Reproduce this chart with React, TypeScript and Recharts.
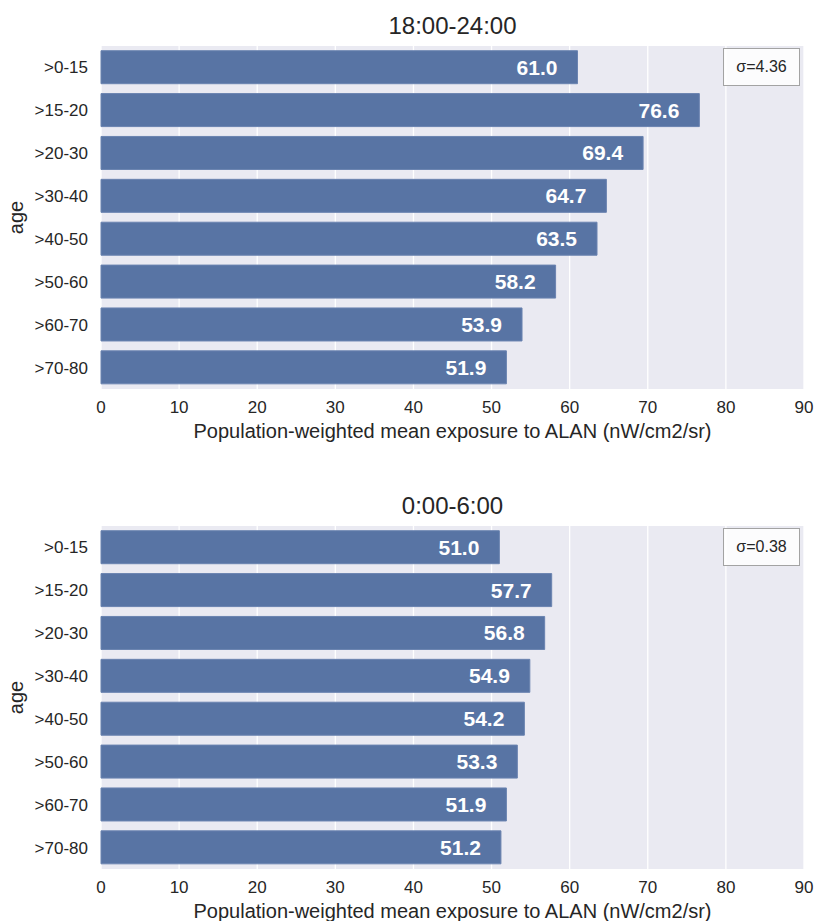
import React from 'react'
import { BarChart, Bar, XAxis, YAxis, CartesianGrid, LabelList } from 'recharts'

// age groups and population-weighted mean ALAN exposure per time window
const ageGroups = ['>0-15', '>15-20', '>20-30', '>30-40', '>40-50', '>50-60', '>60-70', '>70-80']
const eveningValues = [61.0, 76.6, 69.4, 64.7, 63.5, 58.2, 53.9, 51.9]
const nightValues = [51.0, 57.7, 56.8, 54.9, 54.2, 53.3, 51.9, 51.2]
const xTicks = [0, 10, 20, 30, 40, 50, 60, 70, 80, 90]

const panels = [
  { title: '18:00-24:00', sigma: 'σ=4.36', values: eveningValues },
  { title: '0:00-6:00', sigma: 'σ=0.38', values: nightValues },
]

const FONT = '"Liberation Sans", Arial, Helvetica, sans-serif'
const TEXT = '#262626'
const BAR = '#5874a4'
const PANEL_W = 814
const PANEL_H = 480

const ValueLabel = (props: any) => {
  const { x, y, width, height, value } = props
  return (
    <text
      x={x + width - 20}
      y={y + height / 2}
      textAnchor="end"
      dominantBaseline="central"
      fill="#ffffff"
      fontWeight="bold"
      fontSize={21}
      fontFamily={FONT}
    >
      {Number(value).toFixed(1)}
    </text>
  )
}

function Panel({ title, sigma, values, top }: { title: string; sigma: string; values: number[]; top: number }) {
  const data = ageGroups.map((age, i) => ({ age, value: values[i] }))

  return (
    <div style={{ position: 'absolute', left: 0, top, width: PANEL_W, height: PANEL_H }}>
      <div
        style={{
          position: 'absolute',
          left: 101,
          width: 703,
          top: 14,
          textAlign: 'center',
          fontFamily: FONT,
          fontSize: 24,
          lineHeight: '24px',
          color: TEXT,
        }}
      >
        {title}
      </div>

      <BarChart
        width={PANEL_W}
        height={460}
        data={data}
        layout="vertical"
        margin={{ top: 46, right: 10, left: 0, bottom: 11 }}
        barCategoryGap="11%"
      >
        <CartesianGrid fill="#eaeaf2" stroke="#ffffff" strokeWidth={1.3} horizontal={false} />
        <XAxis
          type="number"
          domain={[0, 90]}
          ticks={xTicks}
          axisLine={false}
          tickLine={false}
          tickSize={6}
          tickMargin={6}
          height={60}
          tick={{ fill: TEXT, fontSize: 17, fontFamily: FONT }}
          label={{
            value: 'Population-weighted mean exposure to ALAN (nW/cm2/sr)',
            position: 'insideBottom',
            offset: 11,
            fill: TEXT,
            fontSize: 20,
            fontFamily: FONT,
          }}
        />
        <YAxis
          type="category"
          dataKey="age"
          width={101}
          axisLine={false}
          tickLine={false}
          tickSize={6}
          tickMargin={7}
          tick={{ fill: TEXT, fontSize: 17, fontFamily: FONT }}
          label={{
            value: 'age',
            angle: -90,
            position: 'insideLeft',
            offset: 16,
            textAnchor: 'middle',
            fill: TEXT,
            fontSize: 20,
            fontFamily: FONT,
          }}
        />
        <Bar dataKey="value" fill={BAR} stroke="#6a83b0" strokeWidth={1} isAnimationActive={false}>
          <LabelList dataKey="value" content={ValueLabel} />
        </Bar>
      </BarChart>

      <div
        style={{
          position: 'absolute',
          left: 723,
          top: 48,
          width: 77,
          height: 38,
          boxSizing: 'border-box',
          border: '1.3px solid #a3a3a3',
          background: 'rgba(255,255,255,0.85)',
          display: 'flex',
          alignItems: 'center',
          justifyContent: 'center',
          fontFamily: FONT,
          fontSize: 16,
          color: TEXT,
        }}
      >
        {sigma}
      </div>
    </div>
  )
}

export default function App() {
  return (
    <div style={{ position: 'absolute', left: 0, top: 0, width: PANEL_W, height: 921, background: '#ffffff' }}>
      {panels.map((p, i) => (
        <Panel key={p.title} title={p.title} sigma={p.sigma} values={p.values} top={i * PANEL_H} />
      ))}
    </div>
  )
}
